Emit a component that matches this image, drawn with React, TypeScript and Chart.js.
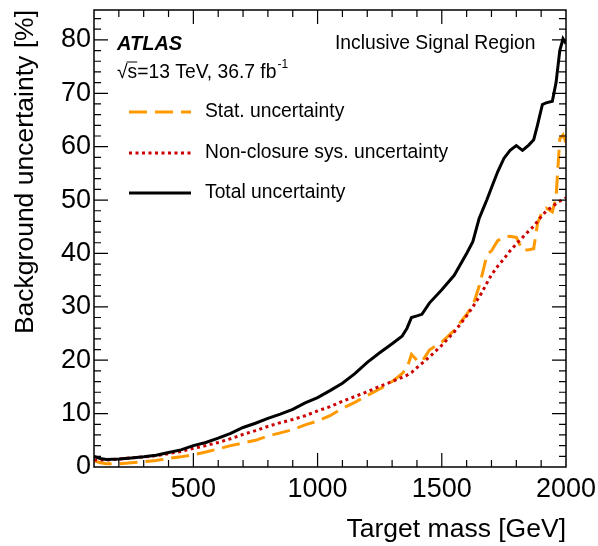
import React, { useEffect, useRef } from "react";
import { Chart, registerables } from "chart.js";
Chart.register(...registerables);

// ---- data ----
const massPoints = [100, 125, 150, 200, 250, 300, 350, 400, 450, 500, 550, 600, 650, 700, 750, 800, 850, 900, 950, 1000, 1050, 1100, 1150, 1200, 1250, 1300, 1340, 1360, 1378, 1400, 1420, 1450, 1500, 1550, 1600, 1625, 1650, 1665, 1682, 1700, 1725, 1750, 1775, 1800, 1825, 1850, 1870, 1885, 1905, 1920, 1945, 1960, 1975, 1988, 2000];
const statUnc = [1.2, 0.8, 0.6, 0.6, 0.8, 1.0, 1.2, 1.6, 1.9, 2.3, 2.8, 3.4, 4.0, 4.5, 5.0, 5.8, 6.4, 7.0, 7.9, 8.6, 9.6, 11.0, 12.1, 13.4, 14.6, 16.0, 17.5, 18.5, 21.1, 20.0, 19.7, 21.9, 23.4, 25.6, 28.6, 30.2, 33.8, 36.5, 39.8, 40.5, 42.4, 43.1, 43.2, 43.0, 40.6, 40.7, 40.9, 45.5, 48.0, 48.5, 47.8, 50.5, 61.5, 62.2, 60.8];
const nonClosureUnc = [1.3, 1.3, 1.3, 1.5, 1.7, 1.9, 2.1, 2.5, 2.9, 3.5, 4.0, 4.6, 5.3, 6.1, 6.8, 7.6, 8.3, 8.9, 9.6, 10.5, 11.3, 12.3, 13.2, 14.1, 15.1, 16.0, 16.8, 17.2, 17.7, 18.6, 19.4, 20.6, 22.8, 25.3, 28.3, 30.0, 31.8, 33.0, 34.5, 36.0, 37.6, 39.0, 40.5, 41.8, 43.0, 44.2, 45.1, 46.0, 47.2, 47.9, 48.8, 49.3, 49.8, 50.1, 50.4];
const totalUnc = [2.0, 1.6, 1.4, 1.5, 1.7, 1.9, 2.2, 2.7, 3.2, 4.0, 4.6, 5.4, 6.3, 7.4, 8.2, 9.1, 9.9, 10.8, 12.0, 13.0, 14.3, 15.7, 17.5, 19.6, 21.4, 23.1, 24.5, 26.0, 28.0, 28.3, 28.6, 30.7, 33.2, 35.9, 40.0, 42.2, 46.5, 48.2, 50.1, 52.3, 55.3, 57.8, 59.3, 60.2, 59.3, 60.3, 61.3, 64.0, 67.9, 68.2, 68.5, 72.0, 78.0, 80.2, 79.3];

const seriesLabels = ["Stat. uncertainty", "Non-closure sys. uncertainty", "Total uncertainty"];
const xTickLabels = [500, 1000, 1500, 2000];
const yTickLabels = [0, 10, 20, 30, 40, 50, 60, 70, 80];
const xMinorStep = 100;
const yMinorStep = 2;

const FONT = "'Liberation Sans', Arial, Helvetica, sans-serif";
const TXT = 19.3;

const framePlugin = {
  id: "rootFrame",
  afterDraw(chart: any) {
    const ctx = chart.ctx;
    const { left, right, top, bottom } = chart.chartArea;
    const xs = chart.scales.x;
    const ys = chart.scales.y;
    ctx.save();
    ctx.strokeStyle = "#000";
    ctx.lineWidth = 1.5;
    ctx.strokeRect(left, top, right - left, bottom - top);
    // x ticks (bottom and top, pointing inward)
    ctx.lineWidth = 1.2;
    for (let v = Math.ceil(xs.min / xMinorStep) * xMinorStep; v <= xs.max; v += xMinorStep) {
      const px = xs.getPixelForValue(v);
      if (px <= left + 1 || px >= right - 1) continue;
      const len = xTickLabels.includes(v) ? 14 : 7;
      ctx.beginPath();
      ctx.moveTo(px, bottom);
      ctx.lineTo(px, bottom - len);
      ctx.moveTo(px, top);
      ctx.lineTo(px, top + len);
      ctx.stroke();
    }
    for (let v = 0; v <= ys.max; v += yMinorStep) {
      const py = ys.getPixelForValue(v);
      if (py >= bottom - 1 || py <= top + 1) continue;
      const len = yTickLabels.includes(v) ? 14 : 7;
      ctx.beginPath();
      ctx.moveTo(left, py);
      ctx.lineTo(left + len, py);
      ctx.moveTo(right, py);
      ctx.lineTo(right - len, py);
      ctx.stroke();
    }

    // texts
    ctx.fillStyle = "#000";
    ctx.textBaseline = "middle";
    ctx.textAlign = "left";
    ctx.font = `italic bold 20px ${FONT}`;
    ctx.fillText("ATLAS", 117, 44);
    ctx.font = `${TXT}px ${FONT}`;
    ctx.fillText("Inclusive Signal Region", 335, 44);
    const base = "√s=13 TeV, 36.7 fb";
    ctx.fillText(base, 117, 73);
    const wRoot = ctx.measureText("√").width;
    const wS = ctx.measureText("s").width;
    const wBase = ctx.measureText(base).width;
    ctx.lineWidth = 1;
    ctx.beginPath();
    ctx.moveTo(117 + wRoot - 1, 62);
    ctx.lineTo(117 + wRoot + wS, 62);
    ctx.stroke();
    ctx.font = `12px ${FONT}`;
    ctx.fillText("-1", 117 + wBase + 1, 65);

    // legend
    const rows = [112, 153, 193];
    chart.data.datasets.forEach((ds: any, i: number) => {
      const y = rows[i];
      ctx.save();
      ctx.strokeStyle = ds.borderColor;
      ctx.lineWidth = ds.borderWidth;
      ctx.setLineDash(ds.borderDash || []);
      ctx.beginPath();
      ctx.moveTo(129, y);
      ctx.lineTo(191, y);
      ctx.stroke();
      ctx.restore();
      ctx.font = `${TXT}px ${FONT}`;
      ctx.fillStyle = "#000";
      ctx.textBaseline = "middle";
      ctx.textAlign = "left";
      ctx.fillText(ds.label, 205, y);
    });
    ctx.restore();
  },
};

export default function App() {
  const ref = useRef<HTMLCanvasElement | null>(null);
  useEffect(() => {
    document.body.style.margin = "0";
    const canvas = ref.current!;
    const mk = (vals: number[]) => massPoints.map((m, i) => ({ x: m, y: vals[i] }));
    const chart = new Chart(canvas, {
      type: "line",
      data: {
        datasets: [
          {
            label: seriesLabels[0],
            data: mk(statUnc),
            borderColor: "#FF9900",
            borderWidth: 3,
            borderDash: [18, 8],
            pointRadius: 0,
            tension: 0,
            fill: false,
            order: 3,
          },
          {
            label: seriesLabels[1],
            data: mk(nonClosureUnc),
            borderColor: "#CC0000",
            borderWidth: 3,
            borderDash: [3, 3.5],
            pointRadius: 0,
            tension: 0,
            fill: false,
            order: 2,
          },
          {
            label: seriesLabels[2],
            data: mk(totalUnc),
            borderColor: "#000000",
            borderWidth: 3,
            pointRadius: 0,
            tension: 0,
            fill: false,
            order: 1,
          },
        ],
      },
      options: {
        responsive: false,
        animation: false,
        layout: { padding: { top: 10, right: 32, left: 0, bottom: 0 } },
        plugins: { legend: { display: false }, tooltip: { enabled: false } },
        scales: {
          x: {
            type: "linear",
            min: 100,
            max: 2000,
            grid: { display: false, drawTicks: false, tickLength: 0 },
            border: { display: false },
            afterBuildTicks: (s: any) => {
              s.ticks = xTickLabels.map((v) => ({ value: v }));
            },
            afterFit: (s: any) => {
              s.height = 79;
              s.paddingLeft = 0;
              s.paddingRight = 0;
            },
            ticks: {
              color: "#000",
              font: { family: FONT, size: 27 },
              padding: 6,
              maxRotation: 0,
              autoSkip: false,
              callback: (v: any) => String(v),
            },
            title: {
              display: true,
              text: "Target mass [GeV]",
              align: "end",
              color: "#000",
              font: { family: FONT, size: 26.5 },
              padding: { top: 0, bottom: 0 },
            },
          },
          y: {
            type: "linear",
            min: 0,
            max: 85.6,
            grid: { display: false, drawTicks: false, tickLength: 0 },
            border: { display: false },
            afterBuildTicks: (s: any) => {
              s.ticks = yTickLabels.map((v) => ({ value: v }));
            },
            afterFit: (s: any) => {
              s.width = 94;
              s.paddingTop = 0;
              s.paddingBottom = 0;
            },
            ticks: {
              color: "#000",
              font: { family: FONT, size: 27 },
              padding: 3,
              autoSkip: false,
              callback: (v: any) => String(v),
            },
            title: {
              display: true,
              text: "Background uncertainty [%]",
              align: "end",
              color: "#000",
              font: { family: FONT, size: 26.5 },
              padding: { top: 10, bottom: 0 },
            },
          },
        },
      },
      plugins: [framePlugin],
    } as any);
    return () => chart.destroy();
  }, []);
  return (
    <canvas
      ref={ref}
      width={598}
      height={546}
      style={{ display: "block", width: "598px", height: "546px" }}
    />
  );
}
